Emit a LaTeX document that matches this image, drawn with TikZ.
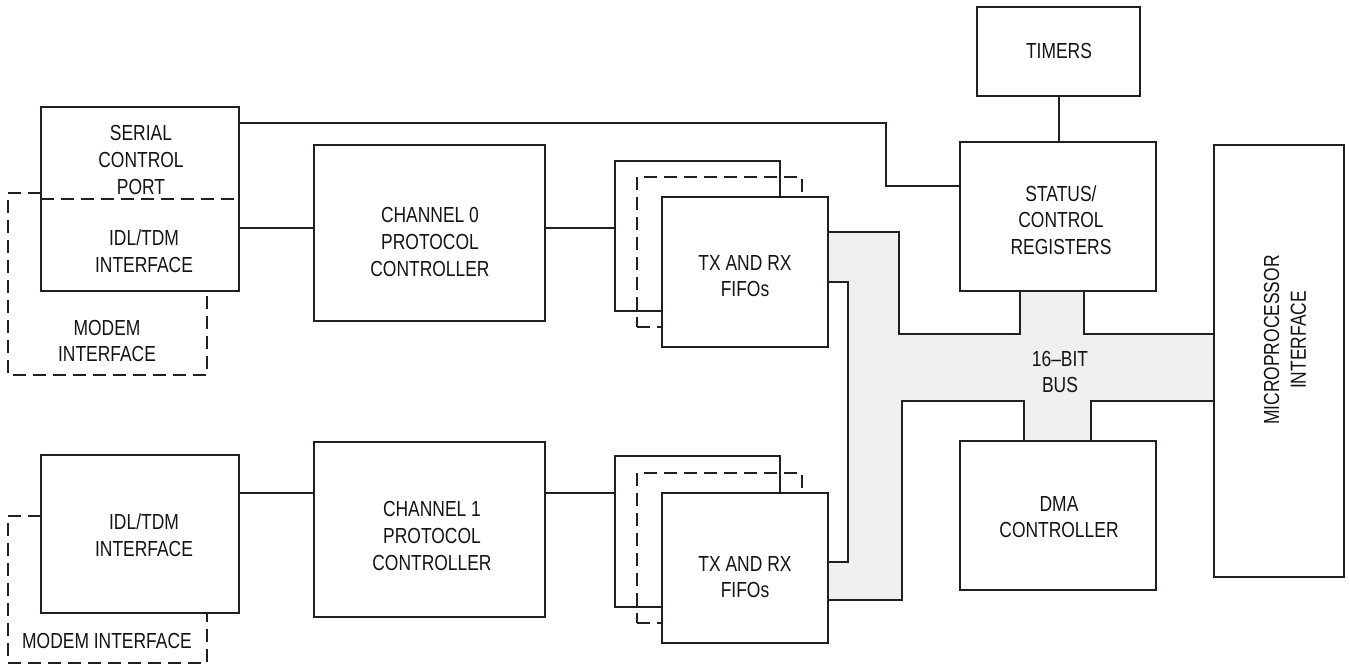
\documentclass[tikz,border=0pt]{standalone}
\usepackage{fontspec}
\setmainfont{Liberation Sans}[FakeStretch=0.80]
\definecolor{ln}{RGB}{35,31,32}
\definecolor{tx}{RGB}{20,20,20}
\definecolor{busgray}{RGB}{238,239,241}
\begin{document}
\begin{tikzpicture}[x=1pt,y=-1pt,line width=2pt,
  box/.style={draw=ln,line width=2pt,rectangle,inner sep=0pt,outer sep=0pt,anchor=north west},
  dbox/.style={box,dash pattern=on 13pt off 7pt},
  fbox/.style={box,fill=white},
  txt/.style={align=center,font=\fontsize{21.8}{26.7}\selectfont,text=tx,inner sep=0pt},
  conn/.style={draw=ln,line width=2pt},
  dsh/.style={draw=ln,line width=2pt,dash pattern=on 13pt off 7pt},
  busline/.style={draw=ln,line width=2pt,line join=miter}]
\useasboundingbox (0,0) rectangle (1350,669);

% bus fill
\fill[busgray] (828,232) -- (899,232) -- (899,334) -- (1020,334) -- (1020,291) -- (1084,291)
  -- (1084,334) -- (1214,334) -- (1214,401) -- (1091,401) -- (1091,441) -- (1024,441)
  -- (1024,401) -- (902,401) -- (902,600) -- (828,600) -- (828,562) -- (848,562)
  -- (848,282) -- (828,282) -- cycle;
\draw[busline] (828,232) -- (899,232) -- (899,334) -- (1020,334) -- (1020,291);
\draw[busline] (1084,291) -- (1084,334) -- (1214,334);
\draw[busline] (1214,401) -- (1091,401) -- (1091,441);
\draw[busline] (1024,441) -- (1024,401) -- (902,401) -- (902,600) -- (828,600);
\draw[busline] (828,562) -- (848,562) -- (848,282) -- (828,282);

% modem interfaces (dashed)
\draw[dsh] (41,193) -- (8,193) -- (8,375) -- (207,375) -- (207,291);
\draw[dsh] (41,516) -- (8,516) -- (8,663) -- (207,663) -- (207,613);

% boxes
\node[box,minimum width=198pt,minimum height=184pt] (port) at (41,107) {};
\draw[dsh] (41,199) -- (239,199);
\node[box,minimum width=198pt,minimum height=158pt] (idl1) at (41,455) {};
\node[box,minimum width=231pt,minimum height=176pt] (ch0) at (314,145) {};
\node[box,minimum width=231pt,minimum height=175pt] (ch1) at (314,442) {};

\node[box,minimum width=165pt,minimum height=150pt] (f0b) at (615,161) {};
\node[dbox,minimum width=165pt,minimum height=150pt] (f0d) at (637,177) {};
\node[fbox,minimum width=166pt,minimum height=150pt] (f0) at (662,197) {};
\node[box,minimum width=165pt,minimum height=151pt] (f1b) at (615,456) {};
\node[dbox,minimum width=165pt,minimum height=150pt] (f1d) at (637,473) {};
\node[fbox,minimum width=166pt,minimum height=150pt] (f1) at (662,493) {};

\node[box,minimum width=163pt,minimum height=89pt] (timers) at (977,7) {};
\node[box,minimum width=196pt,minimum height=149pt] (status) at (960,142) {};
\node[box,minimum width=196pt,minimum height=149pt] (dma) at (960,441) {};
\node[box,minimum width=130pt,minimum height=432pt] (micro) at (1214,145) {};

% texts
\node[txt] (tscp) at (141,160) {SERIAL\\CONTROL\\PORT};
\node[txt] (tidl0) at (144,251) {IDL/TDM\\INTERFACE};
\node[txt] (tmod0) at (107,341) {MODEM\\INTERFACE};
\node[txt] (tidl1) at (144,535) {IDL/TDM\\INTERFACE};
\node[txt] (tmod1) at (107,641) {MODEM INTERFACE};
\node[txt] (tch0) at (430,242) {CHANNEL 0\\PROTOCOL\\CONTROLLER};
\node[txt] (tch1) at (432,536) {CHANNEL 1\\PROTOCOL\\CONTROLLER};
\node[txt] (tf0) at (745,276) {TX AND RX\\FIFOs};
\node[txt] (tf1) at (745,577) {TX AND RX\\FIFOs};
\node[txt] (ttim) at (1059,51) {TIMERS};
\node[txt] (tstat) at (1061,220) {STATUS/\\CONTROL\\REGISTERS};
\node[txt] (tbus) at (1060,372) {16–BIT\\BUS};
\node[txt] (tdma) at (1059,517) {DMA\\CONTROLLER};
\node[txt,rotate=90] (tmic) at (1285,340) {MICROPROCESSOR\\INTERFACE};

% connectors
\draw[conn] ([yshift=-121pt]port.north east) -- ([yshift=-83pt]ch0.north west);
\draw[conn] ([yshift=-83pt]ch0.north east) -- ([yshift=-67pt]f0b.north west);
\draw[conn] ([yshift=-38pt]idl1.north east) -- ([yshift=-51pt]ch1.north west);
\draw[conn] ([yshift=-51pt]ch1.north east) -- ([yshift=-37pt]f1b.north west);
\draw[conn] (timers.south) -- (timers.south |- status.north);
\draw[conn] ([yshift=-16pt]port.north east) -| ([xshift=-74pt,yshift=-44pt]status.north west) -- ([yshift=-44pt]status.north west);
\end{tikzpicture}
\end{document}
